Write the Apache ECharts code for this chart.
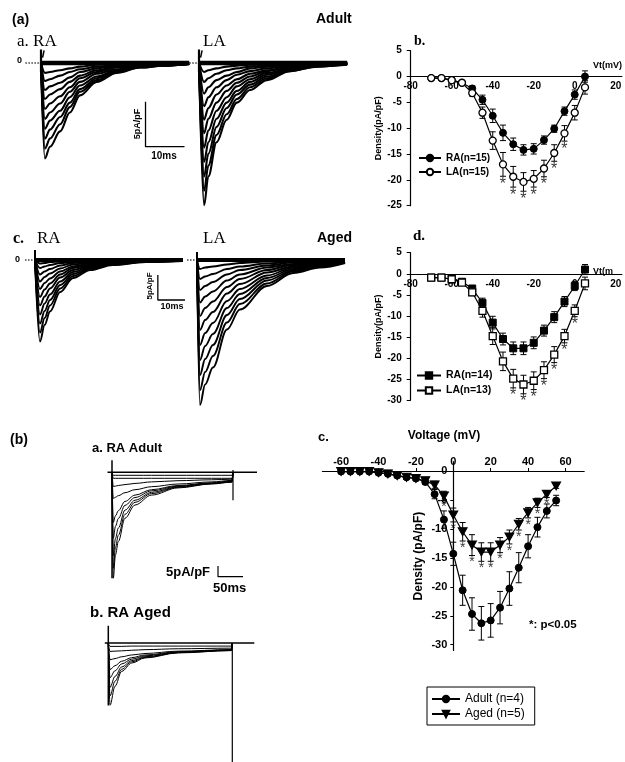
<!DOCTYPE html>
<html><head><meta charset="utf-8">
<script src="https://cdn.jsdelivr.net/npm/echarts@6/dist/echarts.min.js"></script>
<style>html,body{margin:0;padding:0;background:#fff}#c{width:625px;height:762px}</style>
</head><body><div id="c"></div>
<script>
// ================= I-V DATA =================
const vtTop = [-70,-65,-60,-55,-50,-45,-40,-35,-30,-25,-20,-15,-10,-5,0,5];
const raAdultIV  = [-0.3,-0.3,-0.7,-1.2,-2.3,-4.5,-7.6,-10.9,-13.1,-14.2,-14.0,-12.3,-10.1,-6.7,-3.5,0.0];
const raAdultErr = [0.2,0.2,0.3,0.4,0.5,0.9,1.3,1.5,1.2,1.0,1.0,0.8,0.7,0.8,0.9,1.1];
const laAdultIV  = [-0.3,-0.3,-0.7,-1.2,-3.2,-7.0,-12.4,-17.0,-19.4,-20.4,-19.8,-17.8,-14.8,-11.0,-7.0,-2.1];
const laAdultErr = [0.2,0.2,0.3,0.4,0.6,1.1,1.7,2.3,2.0,1.8,1.6,1.6,1.6,1.5,1.4,1.3];
const raAgedIV   = [-0.9,-0.9,-1.3,-1.9,-3.5,-6.9,-11.6,-15.5,-17.7,-17.7,-16.4,-13.5,-10.3,-6.6,-2.9,1.0];
const raAgedErr  = [0.3,0.3,0.3,0.4,0.6,1.1,1.5,1.4,1.5,1.5,1.4,1.3,1.3,1.2,1.1,1.2];
const laAgedIV   = [-0.9,-0.9,-1.3,-2.1,-4.4,-8.8,-14.8,-20.8,-24.9,-26.3,-25.4,-22.9,-19.2,-14.8,-8.8,-2.3];
const laAgedErr  = [0.3,0.3,0.3,0.5,0.8,1.5,2.0,2.2,2.2,2.2,2.1,2.0,1.9,1.6,1.4,1.5];
const sigAdultLA = [-35,-30,-25,-20,-15,-10,-5];
const sigAgedLA  = [-30,-25,-20,-15,-10,-5,0];

const vBottom  = [-60,-55,-50,-45,-40,-35,-30,-25,-20,-15,-10,-5,0,5,10,15,20,25,30,35,40,45,50,55];
const adultIV  = [-0.1,-0.1,-0.1,-0.1,-0.3,-0.5,-0.8,-1.1,-1.3,-1.9,-4.0,-8.4,-14.3,-20.6,-24.7,-26.3,-25.8,-23.6,-20.3,-16.7,-13.0,-9.7,-6.9,-5.1];
const adultErr = [0.1,0.1,0.1,0.1,0.2,0.2,0.3,0.3,0.3,0.4,0.8,1.5,2.0,2.6,2.8,2.9,2.9,2.8,2.9,2.6,2.0,1.7,1.2,0.9];
const agedIV   = [-0.1,-0.1,-0.1,-0.1,-0.3,-0.5,-0.8,-1.1,-1.3,-1.7,-2.4,-4.3,-7.6,-10.5,-12.8,-14.0,-14.0,-12.8,-11.4,-9.2,-7.2,-5.5,-4.0,-2.6];
const agedErr  = [0.1,0.1,0.1,0.1,0.2,0.2,0.3,0.3,0.3,0.4,0.6,0.8,1.2,1.6,1.8,1.6,1.6,1.3,1.2,1.0,0.9,0.8,0.6,0.4];
const sigBottom = [-5,0,5,10,15,20,25,30,35,40,45,50];

const xTicksTop = [-80,-60,-40,-20,0,20];
const xTicksBottom = [-60,-40,-20,0,20,40,60];
const yTicksBottom = [0,-5,-10,-15,-20,-25,-30];

// ================= CURRENT TRACES (ms, pA/pF) =================
const tRaAdult = [0,1.0,2.3,4.9,7.4,10,14.3,19.4,25.4,31.3,38];
const raAdultTraces = [
 [0,-10.6,-9.3,-7.6,-5.5,-3.6,-2.1,-1.1,-0.5,-0.3,-0.1],
 [0,-9.5,-8.4,-6.8,-4.9,-3.2,-1.9,-1.0,-0.5,-0.3,-0.1],
 [0,-8.4,-7.4,-6.0,-4.4,-2.9,-1.7,-0.9,-0.4,-0.3,-0.1],
 [0,-7.3,-6.4,-5.3,-3.8,-2.5,-1.5,-0.8,-0.4,-0.2,-0.1],
 [0,-6.2,-5.5,-4.5,-3.2,-2.1,-1.2,-0.7,-0.3,-0.2,-0.1],
 [0,-5.1,-4.5,-3.7,-2.7,-1.7,-1.0,-0.5,-0.3,-0.2,-0.1],
 [0,-4.0,-3.5,-2.9,-2.1,-1.4,-0.8,-0.4,-0.2,-0.1,0],
 [0,-3.0,-2.6,-2.2,-1.6,-1.0,-0.6,-0.3,-0.2,-0.1,0],
 [0,-2.0,-1.8,-1.4,-1.0,-0.7,-0.4,-0.2,-0.1,-0.1,0],
 [0,-1.1,-1.0,-0.8,-0.6,-0.4,-0.2,-0.1,-0.1,0,0]
];
const tLaAdult = [0,1.3,2.4,4.5,7.1,9.7,13.1,17.4,23.3,30.2,38];
const laAdultTraces = [
 [0,-15.8,-12.6,-8.8,-6.3,-4.4,-3.0,-1.9,-0.9,-0.4,-0.2],
 [0,-14.2,-11.4,-8.0,-5.7,-4.0,-2.7,-1.7,-0.9,-0.4,-0.1],
 [0,-12.6,-10.1,-7.1,-5.0,-3.5,-2.4,-1.5,-0.8,-0.3,-0.1],
 [0,-11.0,-8.8,-6.2,-4.4,-3.1,-2.1,-1.3,-0.7,-0.3,-0.1],
 [0,-9.4,-7.5,-5.3,-3.8,-2.6,-1.8,-1.1,-0.6,-0.2,-0.1],
 [0,-7.8,-6.2,-4.4,-3.1,-2.2,-1.5,-0.9,-0.5,-0.2,-0.1],
 [0,-6.3,-5.0,-3.5,-2.5,-1.8,-1.2,-0.8,-0.4,-0.2,-0.1],
 [0,-4.8,-3.8,-2.7,-1.9,-1.3,-0.9,-0.6,-0.3,-0.1,0],
 [0,-3.4,-2.7,-1.9,-1.4,-1.0,-0.6,-0.4,-0.2,-0.1,0],
 [0,-2.1,-1.7,-1.2,-0.8,-0.6,-0.4,-0.3,-0.1,-0.1,0],
 [0,-1.0,-0.8,-0.6,-0.4,-0.3,-0.2,-0.1,-0.1,0,0]
];
const tRaAged = [0,1.35,2.6,4.05,6.8,10.3,14.9,21,30,40];
const raAgedTraces = [
 [0,-16.3,-13.0,-10.3,-6.4,-3.6,-2.0,-1.0,-0.4,-0.2],
 [0,-14.5,-11.6,-9.1,-5.7,-3.2,-1.7,-0.9,-0.4,-0.1],
 [0,-12.7,-10.2,-8.0,-5.0,-2.8,-1.5,-0.8,-0.3,-0.1],
 [0,-10.9,-8.7,-6.9,-4.3,-2.4,-1.3,-0.7,-0.3,-0.1],
 [0,-9.1,-7.3,-5.7,-3.5,-2.0,-1.1,-0.5,-0.2,-0.1],
 [0,-7.4,-5.9,-4.7,-2.9,-1.6,-0.9,-0.4,-0.2,-0.1],
 [0,-5.8,-4.6,-3.7,-2.3,-1.3,-0.7,-0.3,-0.1,-0.1],
 [0,-4.3,-3.4,-2.7,-1.7,-0.9,-0.5,-0.3,-0.1,0],
 [0,-2.9,-2.3,-1.8,-1.1,-0.6,-0.3,-0.2,-0.1,0],
 [0,-1.6,-1.3,-1.0,-0.6,-0.4,-0.2,-0.1,0,0],
 [0,-0.7,-0.6,-0.4,-0.3,-0.2,-0.1,0,0,0]
];
const tLaAged = [0,0.8,2.2,4.3,8.1,11.6,18.9,26,33.2,40];
const laAgedTraces = [
 [0,-29,-24.9,-21.5,-13.9,-9.9,-5.2,-2.6,-1.5,-0.6],
 [0,-26,-22.4,-19.2,-12.5,-8.8,-4.7,-2.3,-1.3,-0.5],
 [0,-23,-19.8,-17.0,-11.0,-7.8,-4.1,-2.1,-1.2,-0.5],
 [0,-20,-17.2,-14.8,-9.6,-6.8,-3.6,-1.8,-1.0,-0.4],
 [0,-17,-14.6,-12.6,-8.2,-5.8,-3.1,-1.5,-0.9,-0.3],
 [0,-14,-12.0,-10.4,-6.7,-4.8,-2.5,-1.3,-0.7,-0.3],
 [0,-11.2,-9.6,-8.3,-5.4,-3.8,-2.0,-1.0,-0.6,-0.2],
 [0,-8.5,-7.3,-6.3,-4.1,-2.9,-1.5,-0.8,-0.4,-0.2],
 [0,-6,-5.2,-4.4,-2.9,-2.0,-1.1,-0.5,-0.3,-0.1],
 [0,-3.8,-3.3,-2.8,-1.8,-1.3,-0.7,-0.3,-0.2,-0.1],
 [0,-1.8,-1.5,-1.3,-0.9,-0.6,-0.3,-0.2,-0.1,0]
];
const tRaAdultLong = [0,2.6,7,12.6,26,46,79,132,199,240,242];
const raAdultLongTraces = [
 [0,-35.3,-27.5,-23.1,-15.3,-10.9,-7.6,-5.2,-3.9,-3.3,0],
 [0,-32,-25,-21,-14,-10,-7.1,-5,-3.8,-3.2,0],
 [0,-27.7,-22,-18.6,-12.6,-9.3,-6.7,-4.8,-3.7,-3.1,0],
 [0,-22,-18,-15.4,-11,-8.4,-6.2,-4.6,-3.6,-3.0,0],
 [0,-16.7,-14.5,-12.8,-9.7,-7.6,-5.8,-4.4,-3.5,-2.9,0],
 [0,-8.7,-8.3,-7.8,-6.8,-5.8,-4.8,-3.9,-3.2,-2.7,0],
 [0,-4.7,-4.6,-4.4,-4.1,-3.7,-3.2,-2.8,-2.5,-2.3,0],
 [0,-2,-2,-2,-2,-2,-2,-2,-2,-2,0],
 [0,-1,-1,-1,-1,-1,-1,-1,-1,-1,0]
];
const tRaAgedLong = [0,3.4,13.4,26.8,46.8,73.4,140,246,248];
const raAgedLongTraces = [
 [0,-20.9,-14.5,-9.5,-6.7,-5.0,-3.3,-2.5,0],
 [0,-17.8,-12.8,-8.8,-6.3,-4.8,-3.2,-2.5,0],
 [0,-14.9,-11.2,-8.0,-5.9,-4.6,-3.1,-2.4,0],
 [0,-11.6,-9.3,-7.0,-5.4,-4.3,-3.0,-2.3,0],
 [0,-8.9,-7.6,-6.1,-4.9,-4.0,-2.9,-2.3,0],
 [0,-5.6,-5.2,-4.6,-4.0,-3.5,-2.7,-2.2,0],
 [0,-2.8,-2.7,-2.6,-2.4,-2.2,-1.9,-1.7,0],
 [0,-1.1,-1.1,-1.1,-1,-1,-1,-1,0]
];

// ================= BUILD =================
const SANS = 'Liberation Sans, Arial, sans-serif';
const SERIF = 'Liberation Serif, Times New Roman, serif';
const chart = echarts.init(document.getElementById('c'), null, {renderer:'canvas', width:625, height:762});

function traces(gi, times, rows, w){
  return rows.map(r => ({type:'line', xAxisIndex:gi, yAxisIndex:gi, silent:true, z:3,
    data: times.map((t,i)=>[t, r[i]]), symbol:'none', smooth:0.35, smoothMonotone:'x',
    lineStyle:{color:'#000', width:w}}));
}
function poly(gi, pts, w, extra){
  return Object.assign({type:'line', xAxisIndex:gi, yAxisIndex:gi, data:pts, symbol:'none', silent:true, clip:false, z:4,
    lineStyle:{color:'#000', width:w}}, extra||{});
}
function errRender(cap){
  return function(params, api){
    const x = api.value(0), y = api.value(1), e = api.value(2);
    const hi = api.coord([x, y+e]), lo = api.coord([x, y-e]);
    const s = {stroke:'#000', lineWidth:1};
    return {type:'group', children:[
      {type:'line', shape:{x1:hi[0],y1:hi[1],x2:lo[0],y2:lo[1]}, style:s},
      {type:'line', shape:{x1:hi[0]-cap,y1:hi[1],x2:hi[0]+cap,y2:hi[1]}, style:s},
      {type:'line', shape:{x1:lo[0]-cap,y1:lo[1],x2:lo[0]+cap,y2:lo[1]}, style:s}]};
  };
}
function errSeries(gi, xs, ys, es, cap){
  return {type:'custom', xAxisIndex:gi, yAxisIndex:gi, silent:true, z:1, renderItem:errRender(cap),
    encode:{x:0,y:1}, data: xs.map((x,i)=>[x, ys[i], es[i]])};
}
function ivSeries(gi, name, xs, ys, symbol, size, filled){
  return {type:'line', name, xAxisIndex:gi, yAxisIndex:gi, data: xs.map((x,i)=>[x, ys[i]]), z:2,
    symbol, symbolSize:size, showSymbol:true, lineStyle:{color:'#000', width:1.2},
    itemStyle: filled ? {color:'#000', borderColor:'#000', borderWidth:1} : {color:'#fff', borderColor:'#000', borderWidth:1.3}};
}
function starSeries(gi, sigXs, xs, ys, es, fs){
  const d = sigXs.map(v => { const i = xs.indexOf(v); return [v, ys[i]-es[i]]; });
  return {type:'scatter', xAxisIndex:gi, yAxisIndex:gi, data:d, symbolSize:0, silent:true, z:5,
    label:{show:true, formatter:'*', position:'bottom', distance:0, color:'#000', fontSize:fs, fontFamily:SANS}};
}

const hiddenX = (g,min,max)=>({gridIndex:g, type:'value', min, max, show:false});
const hiddenY = (g,min,max)=>({gridIndex:g, type:'value', min, max, show:false});
const lblTop = {color:'#000', fontWeight:'bold', fontSize:10, fontFamily:SANS};

const grids = [
  {left:21.5, top:49.5, width:167.7, height:121.5},   // 0 RA adult traces
  {left:187.3, top:49.5, width:159.9, height:166.5},  // 1 LA adult traces
  {left:23.9, top:250, width:159.1, height:100},      // 2 RA aged traces
  {left:185.9, top:250, width:159.1, height:160},     // 3 LA aged traces
  {left:410.7, top:50.7, width:211.2, height:155},    // 4 IV b
  {left:410.7, top:252.7, width:211.2, height:147.4}, // 5 IV d
  {left:322.4, top:461.7, width:261.8, height:188.8}, // 6 IV c bottom
  {left:107, top:457.3, width:155, height:141},       // 7 RA adult long
  {left:103.3, top:622.3, width:155, height:141}      // 8 RA aged long
];

// offsets place the axes on the zero lines (x axis at 0 pA/pF, y axis at 0 mV in panel c)
function ivX(g, off){
  return {gridIndex:g, type:'value', min:-80, max:23, offset:off, axisLine:{onZero:false, lineStyle:{color:'#000', width:1.2}},
    axisTick:{show:false}, splitLine:{show:false},
    axisLabel:Object.assign({customValues:xTicksTop, margin:5}, lblTop)};
}
function ivY(g, min, max){
  return {gridIndex:g, type:'value', min, max, interval:5, axisLine:{show:true, onZero:false, lineStyle:{color:'#000', width:1.2}},
    axisTick:{show:true, length:4, lineStyle:{color:'#000'}}, splitLine:{show:false},
    axisLabel:Object.assign({margin:9}, lblTop),
    name:'Density(pA/pF)', nameLocation:'middle', nameGap:25,
    nameTextStyle:{color:'#000', fontWeight:'bold', fontSize:9, fontFamily:SANS}};
}

const xAxis = [hiddenX(0,-5,38), hiddenX(1,-3,38), hiddenX(2,-3,40), hiddenX(3,-3,40), ivX(4,-129.2), ivX(5,-126.3),
  {gridIndex:6, type:'value', position:'top', min:-70, max:70, offset:-9.3, axisLine:{onZero:false, lineStyle:{color:'#000', width:1.2}},
   axisTick:{show:true, customValues:xTicksBottom, length:3, lineStyle:{color:'#000'}}, splitLine:{show:false},
   axisLabel:{customValues:xTicksBottom, margin:4, color:'#000', fontWeight:'bold', fontSize:11, fontFamily:SANS}},
  hiddenX(7,-10,300), hiddenX(8,-10,300)];
const yAxis = [hiddenY(0,-12,1.5), hiddenY(1,-17,1.5), hiddenY(2,-18,2), hiddenY(3,-30,2), ivY(4,-25,5), ivY(5,-30,5),
  {gridIndex:6, type:'value', min:-31, max:1.6, offset:-130.9, axisLine:{onZero:false, lineStyle:{color:'#000', width:1.2}},
   axisTick:{show:true, customValues:yTicksBottom, length:3, lineStyle:{color:'#000'}}, splitLine:{show:false},
   axisLabel:{customValues:yTicksBottom, margin:6, color:'#000', fontWeight:'bold', fontSize:11, fontFamily:SANS},
   name:'Density (pA/pF)', nameLocation:'middle', nameGap:29,
   nameTextStyle:{color:'#000', fontWeight:'bold', fontSize:12, fontFamily:SANS}},
  hiddenY(7,-42,5), hiddenY(8,-40,7)];

const invTri = 'path://M0,0L10,0L5,9Z';
let series = [];
// top traces
series = series.concat(traces(0, tRaAdult, raAdultTraces, 2.1));
series.push(poly(0, [[0,0],[38,0]], 4.5));
series.push(poly(0, [[-4,0],[0,0]], 1.5, {lineStyle:{color:'#444', width:1.5, type:'dotted'}}));
series.push(poly(0, [[0,-1],[0,1.5]], 2.2));
series.push(poly(0, [[0.4,0.6],[0.8,1.4]], 1.5));
series.push(poly(0, [[26.8,-4.3],[26.8,-9.3],[36.8,-9.3]], 1.3));

series = series.concat(traces(1, tLaAdult, laAdultTraces, 2.1));
series.push(poly(1, [[0,0],[38,0]], 4.5));
series.push(poly(1, [[-2.5,0],[0,0]], 1.5, {lineStyle:{color:'#444', width:1.5, type:'dotted'}}));
series.push(poly(1, [[0,-1],[0,1.5]], 2.2));
series.push(poly(1, [[0.4,0.6],[0.8,1.4]], 1.5));

series = series.concat(traces(2, tRaAged, raAgedTraces, 1.9));
series.push(poly(2, [[0,0],[40,0]], 4));
series.push(poly(2, [[-2.7,0],[0,0]], 1.5, {lineStyle:{color:'#444', width:1.5, type:'dotted'}}));
series.push(poly(2, [[0,-1],[0,2]], 2));
series.push(poly(2, [[33.2,-3],[33.2,-8],[43.2,-8]], 1.3));

series = series.concat(traces(3, tLaAged, laAgedTraces, 1.9));
series.push(poly(3, [[0,0],[40,0]], 4));
series.push(poly(3, [[-2.7,0],[0,0]], 1.5, {lineStyle:{color:'#444', width:1.5, type:'dotted'}}));
series.push(poly(3, [[0,-1],[0,1.6]], 2));

// bottom traces
series = series.concat(traces(7, tRaAdultLong, raAdultLongTraces, 1));
series.push(poly(7, [[-9,0],[290,0]], 1.5));
series.push(poly(7, [[0,4],[0,-35.3]], 1.5));
series.push(poly(7, [[242,0.8],[242,-9.3]], 1.2));
series.push(poly(7, [[212,-31.2],[212,-34.8],[262,-34.8]], 1.2));

series = series.concat(traces(8, tRaAgedLong, raAgedLongTraces, 1));
series.push(poly(8, [[-7,0],[292,0]], 1.5));
series.push(poly(8, [[0,5.8],[0,-21]], 1.5));
series.push(poly(8, [[248,0],[248,-40]], 1.2));

// IV b
series.push(errSeries(4, vtTop, raAdultIV, raAdultErr, 3));
series.push(errSeries(4, vtTop, laAdultIV, laAdultErr, 3));
series.push(ivSeries(4, 'RA(n=15)', vtTop, raAdultIV, 'circle', 7, true));
series.push(ivSeries(4, 'LA(n=15)', vtTop, laAdultIV, 'circle', 7, false));
series.push(starSeries(4, sigAdultLA, vtTop, laAdultIV, laAdultErr, 16));
// IV d
series.push(errSeries(5, vtTop, raAgedIV, raAgedErr, 3));
series.push(errSeries(5, vtTop, laAgedIV, laAgedErr, 3));
series.push(ivSeries(5, 'RA(n=14)', vtTop, raAgedIV, 'rect', 7, true));
series.push(ivSeries(5, 'LA(n=13)', vtTop, laAgedIV, 'rect', 7, false));
series.push(starSeries(5, sigAgedLA, vtTop, laAgedIV, laAgedErr, 16));
// IV c
series.push(errSeries(6, vBottom, adultIV, adultErr, 3));
series.push(errSeries(6, vBottom, agedIV, agedErr, 3));
series.push(ivSeries(6, 'Adult (n=4)', vBottom, adultIV, 'circle', 7, true));
series.push(ivSeries(6, 'Aged (n=5)', vBottom, agedIV, invTri, [9,8], true));
series.push(starSeries(6, sigBottom, vBottom, agedIV, agedErr, 14));

function txt(text, x, y, opt){
  return Object.assign({type:'text', x, y, silent:true, z:100,
    style:Object.assign({text, fill:'#000', fontFamily:SANS, fontSize:12, fontWeight:'bold', align:'left', verticalAlign:'middle'}, opt||{})});
}
function rtxt(text, x, y, opt){
  const t = txt(text, x, y, Object.assign({align:'center'}, opt||{}));
  t.rotation = Math.PI/2; return t;
}

const graphic = [
  txt('(a)', 12, 20, {fontSize:14}),
  txt('Adult', 316, 19, {fontSize:14}),
  txt('a. RA', 17, 42, {fontFamily:SERIF, fontWeight:'normal', fontSize:17}),
  txt('LA', 203, 42, {fontFamily:SERIF, fontWeight:'normal', fontSize:17}),
  txt('0', 17, 61, {fontSize:9}),
  txt('b.', 414, 41, {fontFamily:SERIF, fontSize:14}),
  txt('Vt(mV)', 593, 66, {fontSize:9}),
  rtxt('5pA/pF', 138, 124, {fontSize:9}),
  txt('10ms', 164, 156, {fontSize:10, align:'center'}),
  txt('c.', 13, 239, {fontFamily:SERIF, fontSize:16}),
  txt('RA', 37, 239, {fontFamily:SERIF, fontWeight:'normal', fontSize:17}),
  txt('LA', 203, 239, {fontFamily:SERIF, fontWeight:'normal', fontSize:17}),
  txt('Aged', 317, 238, {fontSize:14}),
  txt('0', 15, 260, {fontSize:9}),
  txt('d.', 413, 236, {fontFamily:SERIF, fontSize:15}),
  txt('Vt(m', 593, 272, {fontSize:9}),
  rtxt('5pA/pF', 150, 286, {fontSize:8}),
  txt('10ms', 172, 307, {fontSize:9, align:'center'}),
  txt('(b)', 10, 440, {fontSize:14}),
  txt('a. RA Adult', 92, 448, {fontSize:13}),
  txt('5pA/pF', 166, 572, {fontSize:13}),
  txt('50ms', 213, 588, {fontSize:13}),
  txt('b. RA Aged', 90, 613, {fontSize:15}),
  txt('c.', 318, 437, {fontSize:13}),
  txt('Voltage (mV)', 444, 436, {fontSize:12, align:'center'}),
  txt('*: p<0.05', 529, 625, {fontSize:11.5})
];

const legendText = {color:'#000', fontFamily:SANS, fontWeight:'bold', fontSize:10};
const option = {
  animation:false,
  backgroundColor:'#fff',
  grid: grids,
  xAxis, yAxis,
  legend:[
    {data:['RA(n=15)','LA(n=15)'], left:418, top:153, orient:'vertical', itemWidth:22, itemHeight:8, itemGap:4, padding:0,
     textStyle:legendText, selectedMode:false},
    {data:['RA(n=14)','LA(n=13)'], left:416, top:370, orient:'vertical', itemWidth:24, itemHeight:8, itemGap:4, padding:0,
     textStyle:Object.assign({}, legendText, {fontSize:10.5}), selectedMode:false},
    {data:['Adult (n=4)','Aged (n=5)'], left:427, top:687, orient:'vertical', itemWidth:28, itemHeight:8, itemGap:3,
     padding:[6,10,5,4], borderColor:'#000', borderWidth:1,
     textStyle:{color:'#000', fontFamily:SANS, fontSize:12}, selectedMode:false}
  ],
  graphic,
  series
};
chart.setOption(option);
</script>
</body></html>
